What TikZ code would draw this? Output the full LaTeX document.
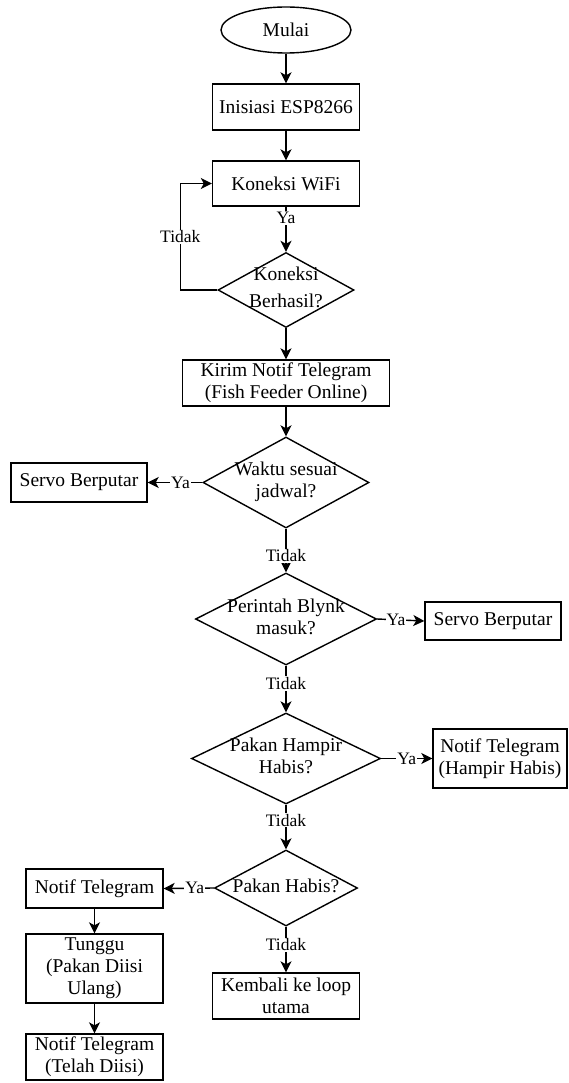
\documentclass[tikz,border=0pt]{standalone}
\usepackage{fontspec}
\setmainfont{Liberation Serif}
\usetikzlibrary{arrows.meta,shapes.geometric}
\newcommand{\dtext}[1]{\makebox[0pt]{\begin{tabular}{@{}c@{}}#1\end{tabular}}}

\begin{document}
\begin{tikzpicture}[x=1pt,y=-1pt,line width=1.4pt,
    every node/.style={font=\fontsize{19.5}{22}\selectfont},
    terminal/.style={ellipse,draw,inner sep=0pt,minimum width=130pt,minimum height=46pt},
    process/.style={rectangle,draw,inner sep=0pt,align=center,minimum width=147pt,minimum height=46pt},
    decision/.style={diamond,draw,inner sep=0pt},
    lbl/.style={font=\fontsize{17.5}{19}\selectfont,fill=white,inner sep=1pt},
    arr/.style={-{Stealth[length=11pt,width=11pt,inset=3pt]}}]
    \useasboundingbox (0,0) rectangle (569,1083);
    % main column
    \node [terminal] (start) at (286,30) {Mulai};
    \node [process] (init) at (286,107) {Inisiasi ESP8266};
    \node [process,minimum height=45pt] (wifi) at (286,183.5) {Koneksi WiFi};
    \node [decision,minimum width=136pt,minimum height=75pt] (cek) at (286,290) {\dtext{Koneksi\\[5pt]Berhasil?}};
    \node [process,minimum width=207pt] (kirim) at (286,383) {Kirim Notif Telegram\\(Fish Feeder Online)};
    \node [decision,minimum width=166pt,minimum height=91pt] (waktu) at (286,482.5) {\dtext{Waktu sesuai\\jadwal?}};
    \node [decision,minimum width=181pt,minimum height=92pt] (blynk) at (286,619) {\dtext{Perintah Blynk\\masuk?}};
    \node [decision,minimum width=189pt,minimum height=91pt] (hampir) at (286,758.5) {\dtext{Pakan Hampir\\Habis?}};
    \node [decision,minimum width=143pt,minimum height=76pt] (habis) at (286,888) {\dtext{Pakan Habis?}};
    \node [process] (kembali) at (286,996) {Kembali ke loop\\utama};
    % side boxes
    \node [process,minimum width=136pt,minimum height=39pt] (servoA) at (79,482.5) {Servo Berputar};
    \node [process,minimum width=136pt,minimum height=38pt] (servoB) at (493,621) {Servo Berputar};
    \node [process,minimum width=134pt,minimum height=59pt] (notifA) at (500,758.5) {Notif Telegram\\(Hampir Habis)};
    \node [process,minimum width=137pt,minimum height=39pt] (notifB) at (94.5,888.5) {Notif Telegram};
    \node [process,minimum width=137pt,minimum height=69pt] (tunggu) at (94.5,968.5) {Tunggu\\(Pakan Diisi\\Ulang)};
    \node [process,minimum width=137pt,minimum height=46pt] (notifC) at (94.5,1057) {Notif Telegram\\(Telah Diisi)};

    \draw [arr] (start) -- (init);
    \draw [arr] (init) -- (wifi);
    \draw [arr] (wifi) -- node [lbl,pos=0.25] {Ya} (cek);
    \draw [arr] (cek.west) -- ++(-37,0) |- node [lbl,pos=0.25] {Tidak} (wifi.west);
    \draw [arr] (cek) -- (kirim);
    \draw [arr] (kirim) -- (waktu);
    \draw [arr] (waktu.west) -- node [lbl,pos=0.4] {Ya} (servoA.east);
    \draw [arr] (waktu.south) -- node [lbl,pos=0.62] {Tidak} (blynk.north);
    \draw [arr] (blynk.east) -- node [lbl,pos=0.4] {Ya} (servoB.west);
    \draw [arr] (blynk.south) -- node [lbl,pos=0.38] {Tidak} (hampir.north);
    \draw [arr] (hampir.east) -- node [lbl,pos=0.5] {Ya} (notifA.west);
    \draw [arr] (hampir.south) -- node [lbl,pos=0.35] {Tidak} (habis.north);
    \draw [arr] (habis.west) -- node [lbl,pos=0.38] {Ya} (notifB.east);
    \draw [arr] (habis.south) -- node [lbl,pos=0.4] {Tidak} (kembali.north);
    \draw [arr] (notifB) -- (tunggu);
    \draw [arr] (tunggu) -- (notifC);
\end{tikzpicture}
\end{document}
